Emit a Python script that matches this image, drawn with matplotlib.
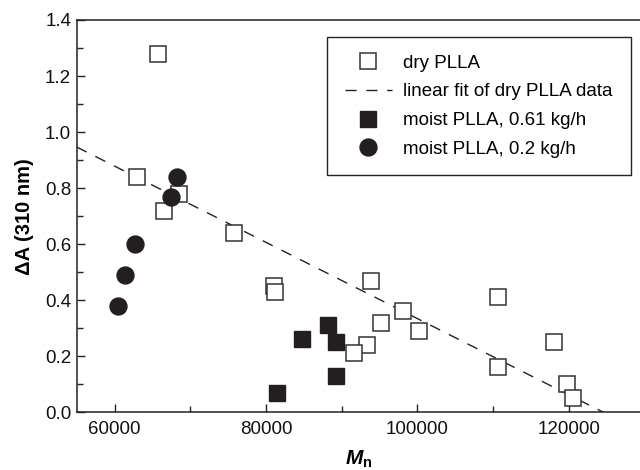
import matplotlib
matplotlib.use("Agg")
import matplotlib.pyplot as plt
import numpy as np
from matplotlib.ticker import MultipleLocator, FormatStrFormatter

plt.rcParams['font.family'] = ['Liberation Sans', 'DejaVu Sans']
plt.rcParams['mathtext.fontset'] = 'custom'
plt.rcParams['mathtext.it'] = 'Liberation Sans:italic:bold'
plt.rcParams['mathtext.bf'] = 'Liberation Sans:bold'
plt.rcParams['mathtext.rm'] = 'Liberation Sans'

# dry PLLA
dry_mn = [65800, 62960, 68450, 66570, 75720, 81000, 81200, 93900, 98100, 95200,
          100200, 93300, 91600, 110700, 110600, 118000, 119700, 120600]
dry_da = [1.28, 0.84, 0.78, 0.72, 0.64, 0.45, 0.43, 0.47, 0.36, 0.32,
          0.29, 0.24, 0.21, 0.41, 0.16, 0.25, 0.10, 0.05]
# moist PLLA, 0.61 kg/h
m61_mn = [81450, 84700, 88200, 89200, 89200]
m61_da = [0.07, 0.26, 0.31, 0.25, 0.13]
# moist PLLA, 0.2 kg/h
m02_mn = [60400, 61400, 62700, 68300, 67500]
m02_da = [0.38, 0.49, 0.60, 0.84, 0.77]
# linear fit of dry data (parameters)
fit_slope = -1.3606e-5
fit_intercept = 1.695
x_range = [55000, 129400]

W, H = 640, 470
fig = plt.figure(figsize=(W/100, H/100), dpi=100)
ax_left, ax_right, ax_top, ax_bottom = 76.7, 640, 20, 412.3
ax = fig.add_axes([ax_left/W, 1-ax_bottom/H, (ax_right-ax_left)/W, (ax_bottom-ax_top)/H])

fx = np.array(x_range)
ax.plot(fx, fit_intercept + fit_slope*fx, ls=(0, (8, 7)), color='#222222', lw=1.0,
        label='linear fit of dry PLLA data', zorder=2)
ax.plot(dry_mn, dry_da, 's', ms=11.5, mfc='white', mec='#333333', mew=1.1,
        ls='none', label='dry PLLA', zorder=3)
ax.plot(m61_mn, m61_da, 's', ms=11.5, mfc='#231f20', mec='#231f20',
        ls='none', label='moist PLLA, 0.61 kg/h', zorder=4)
ax.plot(m02_mn, m02_da, 'o', ms=12.2, mfc='#231f20', mec='#231f20',
        ls='none', label='moist PLLA, 0.2 kg/h', zorder=4)

ax.set_xlim(x_range)
ax.set_ylim(0, 1.4)
ax.xaxis.set_major_locator(MultipleLocator(20000))
ax.xaxis.set_minor_locator(MultipleLocator(10000))
ax.yaxis.set_major_locator(MultipleLocator(0.2))
ax.yaxis.set_minor_locator(MultipleLocator(0.1))
ax.yaxis.set_major_formatter(FormatStrFormatter('%.1f'))
ax.tick_params(which='both', direction='in', labelsize=13.5, top=False, right=False,
               color='#222222', labelcolor='#111111')
ax.tick_params(which='major', length=6, width=1)
ax.tick_params(axis='x', which='major', pad=6)
ax.tick_params(axis='y', which='major', pad=4)
ax.tick_params(which='minor', length=4, width=1)
ax.spines['right'].set_visible(False)
for s in ['left', 'bottom', 'top']:
    ax.spines[s].set_linewidth(1.1)
    ax.spines[s].set_color('#222222')

ax.set_xlabel(r'$\mathit{M}_{\mathbf{n}}$', fontsize=15, labelpad=8)
ax.set_ylabel('ΔA (310 nm)', fontsize=14.5, fontweight='bold')
ax.yaxis.set_label_coords((34 - ax_left)/(ax_right - ax_left), 0.5)

h, l = ax.get_legend_handles_labels()
order = [1, 0, 2, 3]
leg = fig.legend([h[i] for i in order], [l[i] for i in order],
                 loc='upper left', bbox_to_anchor=(327/W, 1 - 37/H),
                 bbox_transform=fig.transFigure,
                 fontsize=13.5, frameon=True, fancybox=False, framealpha=1,
                 edgecolor='#222222', handlelength=2.5, labelspacing=0.61,
                 borderpad=0.95, handletextpad=0.62, borderaxespad=0)
leg.get_frame().set_linewidth(1.0)

fig.savefig('out.png', dpi=100)
